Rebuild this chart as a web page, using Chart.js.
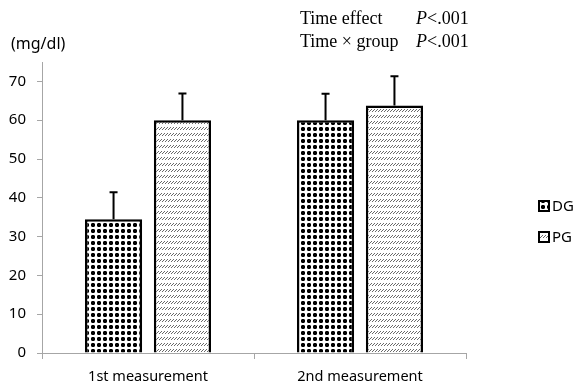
<!DOCTYPE html>
<html>
<head>
<meta charset="utf-8">
<script src="https://cdn.jsdelivr.net/npm/chart.js@4.4.0/dist/chart.umd.min.js"></script>
<style>body{margin:0;background:#fff;overflow:hidden}</style>
</head>
<body>
<canvas id="glucoseChart" width="574" height="387"></canvas>
<script>
// data
var categories = ['1st measurement', '2nd measurement'];
var groupNames = ['DG', 'PG'];
var dgValues = [34.5, 60];
var dgSD = [6.9, 6.8];
var pgValues = [60, 63.8];
var pgSD = [6.9, 7.5];
var yTicks = [0, 10, 20, 30, 40, 50, 60, 70];
var statLabels = ['Time effect', 'Time \u00d7 group'];
var statValues = ['<.001', '<.001'];

var axisGray = '#a6a6a6';
var sansFont = "'Noto Sans', 'DejaVu Sans', sans-serif";
var serifFont = "'Liberation Serif', 'Times New Roman', serif";

// checkered dot fill for DG
function makeDotPattern() {
    var c = document.createElement('canvas');
    c.width = 6; c.height = 6;
    var x = c.getContext('2d');
    x.fillStyle = '#fff';
    x.fillRect(0, 0, 6, 6);
    x.fillStyle = '#777';
    x.fillRect(1, 1, 4, 4);
    x.fillStyle = '#000';
    x.fillRect(1, 2, 4, 2);
    x.fillRect(2, 1, 2, 4);
    return x.createPattern(c, 'repeat');
}

// light diagonal dashes for PG
function makeHatchPattern() {
    var c = document.createElement('canvas');
    c.width = 3; c.height = 6;
    var x = c.getContext('2d');
    x.fillStyle = '#fff';
    x.fillRect(0, 0, 3, 6);
    x.fillStyle = '#6a6a6a';
    x.fillRect(2, 1, 1, 1);
    x.fillRect(1, 2, 1, 1);
    x.fillRect(0, 3, 1, 1);
    return x.createPattern(c, 'repeat');
}

var dgFill = makeDotPattern();
var pgFill = makeHatchPattern();

// error bars (mean + SD only)
var errorBars = {
    id: 'errorBars',
    afterDatasetsDraw: function(chart) {
        var ctx = chart.ctx;
        var yScale = chart.scales.y;
        chart.data.datasets.forEach(function(ds, i) {
            var meta = chart.getDatasetMeta(i);
            meta.data.forEach(function(bar, j) {
                var top = yScale.getPixelForValue(ds.data[j] + ds.sd[j]);
                ctx.save();
                ctx.strokeStyle = '#000';
                ctx.lineWidth = 2;
                ctx.beginPath();
                ctx.moveTo(bar.x, bar.y);
                ctx.lineTo(bar.x, top);
                ctx.moveTo(bar.x - 4, top);
                ctx.lineTo(bar.x + 4, top);
                ctx.stroke();
                ctx.restore();
            });
        });
    }
};

// unit label, stats text and legend
var extraText = {
    id: 'extraText',
    afterDraw: function(chart) {
        var ctx = chart.ctx;
        ctx.save();
        ctx.fillStyle = '#000';
        ctx.textBaseline = 'middle';
        ctx.font = '16px ' + sansFont;
        ctx.fillText('(mg/dl)', 11, 44);

        for (var i = 0; i < statLabels.length; i++) {
            var yy = 19 + i * 23;
            ctx.font = '18px ' + serifFont;
            ctx.fillText(statLabels[i], 300, yy);
            ctx.font = 'italic 18px ' + serifFont;
            ctx.fillText('P', 416, yy);
            var pw = ctx.measureText('P').width;
            ctx.font = '18px ' + serifFont;
            ctx.fillText(statValues[i], 416 + pw, yy);
        }

        var fills = [dgFill, pgFill];
        ctx.font = '15px ' + sansFont;
        for (var k = 0; k < groupNames.length; k++) {
            var ly = 206 + k * 31;
            ctx.fillStyle = fills[k];
            ctx.fillRect(539, ly - 5, 10, 10);
            ctx.strokeStyle = '#000';
            ctx.lineWidth = 2;
            ctx.strokeRect(539, ly - 5, 10, 10);
            ctx.fillStyle = '#000';
            ctx.fillText(groupNames[k], 552, ly + 1);
        }
        ctx.restore();
    }
};

var glucoseChart = new Chart(document.getElementById('glucoseChart'), {
    type: 'bar',
    data: {
        labels: categories,
        datasets: [{
            label: groupNames[0],
            data: dgValues,
            sd: dgSD,
            backgroundColor: dgFill,
            borderColor: '#000',
            borderWidth: 2.5,
            categoryPercentage: 0.65,
            barPercentage: 0.83
        },
        {
            label: groupNames[1],
            data: pgValues,
            sd: pgSD,
            backgroundColor: pgFill,
            borderColor: '#000',
            borderWidth: 2.5,
            categoryPercentage: 0.65,
            barPercentage: 0.83
        }]
    },
    options: {
        responsive: false,
        animation: false,
        devicePixelRatio: 1,
        layout: {
            padding: { top: 62, right: 108, left: 0, bottom: 0 }
        },
        plugins: {
            legend: { display: false },
            tooltip: { enabled: false }
        },
        scales: {
            x: {
                grid: { drawOnChartArea: false, offset: true, tickLength: 6, color: axisGray },
                border: { color: axisGray },
                ticks: { font: { size: 14.5, family: sansFont }, color: '#000', padding: 9 },
                afterFit: function(s) { s.height = 34; }
            },
            y: {
                min: 0,
                max: 75,
                afterBuildTicks: function(s) {
                    s.ticks = yTicks.map(function(v) { return { value: v }; });
                },
                grid: { drawOnChartArea: false, tickLength: 5, color: axisGray },
                border: { color: axisGray },
                ticks: { font: { size: 15, family: sansFont }, color: '#000', padding: 11 },
                afterFit: function(s) { s.width = 42; }
            }
        }
    },
    plugins: [errorBars, extraText]
});
</script>
</body>
</html>
